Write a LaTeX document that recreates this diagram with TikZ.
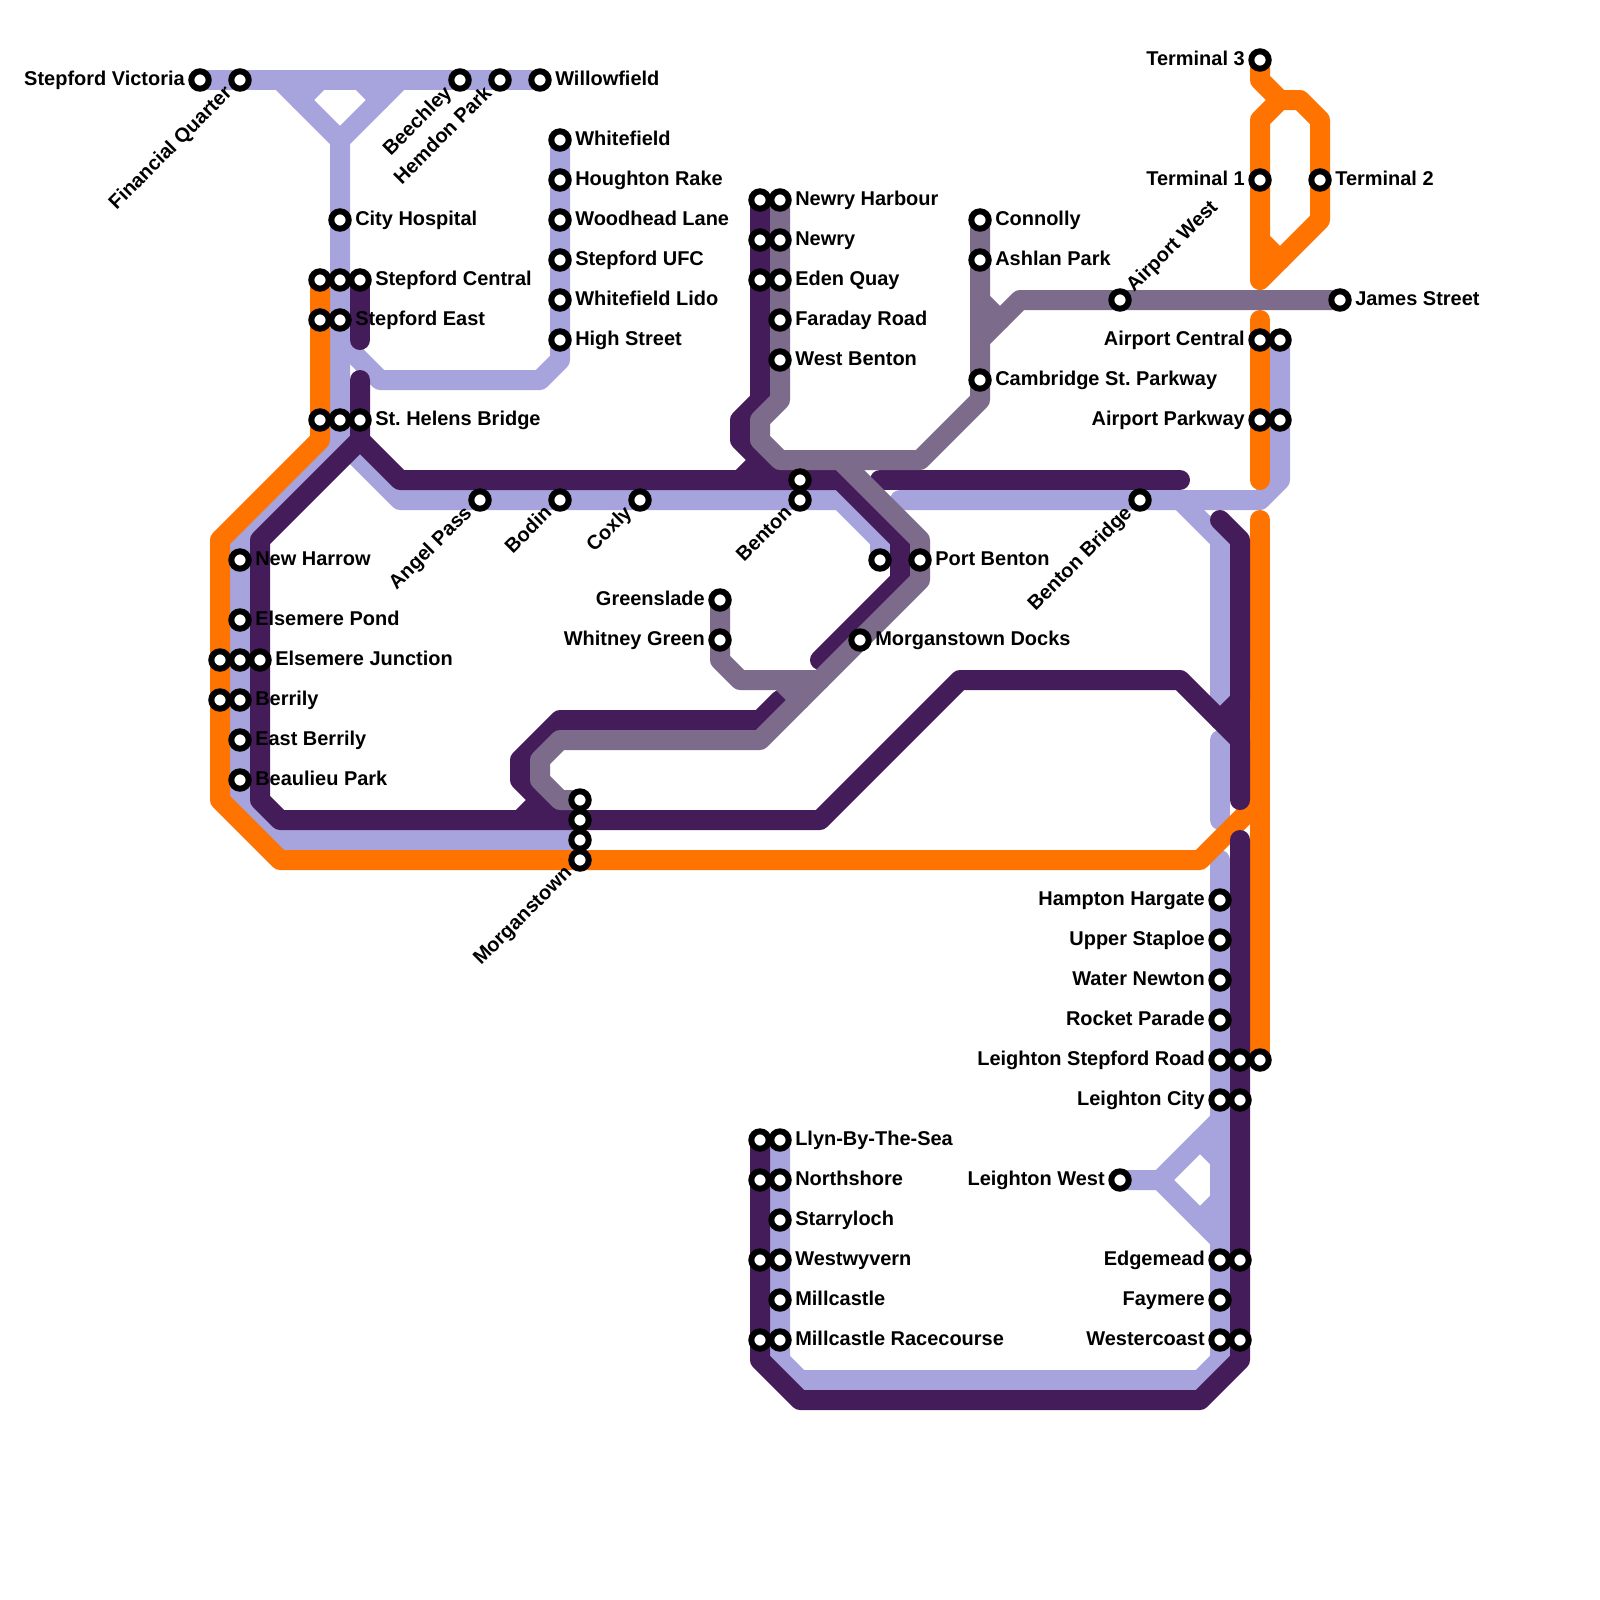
\documentclass[tikz,border=0pt]{standalone}
\usepackage{fontspec}
\setmainfont{Liberation Sans}
\usetikzlibrary{backgrounds}
\definecolor{lilac}{HTML}{A6A3DD}
\definecolor{amber}{HTML}{FF7300}
\definecolor{plum}{HTML}{451C5A}
\definecolor{slate}{HTML}{7D6B8C}
\frenchspacing

\begin{document}
\begin{tikzpicture}[
  x=0.5cm, y=-0.5cm,
  every node/.style={text=black, font=\fontsize{14.2pt}{17pt}\selectfont\bfseries},
  metro/.style={line width=5mm, line cap=round, line join=round},
  stn/.style={circle, draw=black, fill=white, line width=1.5mm, minimum size=4.35mm, inner sep=0pt, outer sep=0pt},
  lblr/.style={anchor=base west, xshift=3.75mm, yshift=-1.25mm, inner sep=0pt},
  lbll/.style={anchor=base east, xshift=-3.75mm, yshift=-1.25mm, inner sep=0pt},
  lbld/.style={anchor=base east, xshift=-1.75mm, yshift=-3.5mm, inner sep=0pt, rotate=45},
  lblu/.style={anchor=base west, xshift=3.5mm, yshift=1.75mm, inner sep=0pt, rotate=45},
]
\useasboundingbox (0,0) rectangle (80,80);

% Top line
\node[stn] (victoria) at (10,4) {};
\node[lbll] (victoria-t) at (victoria) {Stepford Victoria};
\node[stn] (financial) at (12,4) {};
\node[lbld] (financial-t) at (financial) {Financial Quarter};
\node[stn] (beechley) at (23,4) {};
\node[lbld] (beechley-t) at (beechley) {Beechley};
\node[stn] (hemdon) at (25,4) {};
\node[lbld] (hemdon-t) at (hemdon) {Hemdon Park};
\node[stn] (willowfield) at (27,4) {};
\node[lblr] (willowfield-t) at (willowfield) {Willowfield};

% Whitefield branch
\node[stn] (whitefield) at (28,7) {};
\node[lblr] (whitefield-t) at (whitefield) {Whitefield};
\node[stn] (houghton) at (28,9) {};
\node[lblr] (houghton-t) at (houghton) {Houghton Rake};
\node[stn] (woodhead) at (28,11) {};
\node[lblr] (woodhead-t) at (woodhead) {Woodhead Lane};
\node[stn] (ufc) at (28,13) {};
\node[lblr] (ufc-t) at (ufc) {Stepford UFC};
\node[stn] (lido) at (28,15) {};
\node[lblr] (lido-t) at (lido) {Whitefield Lido};
\node[stn] (highst) at (28,17) {};
\node[lblr] (highst-t) at (highst) {High Street};

% Stepford
\node[stn] (hospital) at (17,11) {};
\node[lblr] (hospital-t) at (hospital) {City Hospital};
\node[stn] (centrala) at (16,14) {};
\node[stn] (centralb) at (17,14) {};
\node[stn] (centralc) at (18,14) {};
\node[lblr] (central-t) at (centralc) {Stepford Central};
\node[stn] (easta) at (16,16) {};
\node[stn] (eastb) at (17,16) {};
\node[lblr] (east-t) at (eastb) {Stepford East};
\node[stn] (helensa) at (16,21) {};
\node[stn] (helensb) at (17,21) {};
\node[stn] (helensc) at (18,21) {};
\node[lblr] (helens-t) at (helensc) {St. Helens Bridge};

% West side
\node[stn] (harrow) at (12,28) {};
\node[lblr] (harrow-t) at (harrow) {New Harrow};
\node[stn] (pond) at (12,31) {};
\node[lblr] (pond-t) at (pond) {Elsemere Pond};
\node[stn] (junctiona) at (11,33) {};
\node[stn] (junctionb) at (12,33) {};
\node[stn] (junctionc) at (13,33) {};
\node[lblr] (junction-t) at (junctionc) {Elsemere Junction};
\node[stn] (berrilya) at (11,35) {};
\node[stn] (berrilyb) at (12,35) {};
\node[lblr] (berrily-t) at (berrilyb) {Berrily};
\node[stn] (eastberrily) at (12,37) {};
\node[lblr] (eastberrily-t) at (eastberrily) {East Berrily};
\node[stn] (beaulieu) at (12,39) {};
\node[lblr] (beaulieu-t) at (beaulieu) {Beaulieu Park};

% Morganstown
\node[stn] (mtowna) at (29,40) {};
\node[stn] (mtownb) at (29,41) {};
\node[stn] (mtownc) at (29,42) {};
\node[stn] (mtownd) at (29,43) {};
\node[lbld] (mtown-t) at (mtownd) {Morganstown};

% Middle
\node[stn] (angel) at (24,25) {};
\node[lbld] (angel-t) at (angel) {Angel Pass};
\node[stn] (bodin) at (28,25) {};
\node[lbld] (bodin-t) at (bodin) {Bodin};
\node[stn] (coxly) at (32,25) {};
\node[lbld] (coxly-t) at (coxly) {Coxly};
\node[stn] (bentona) at (40,24) {};
\node[stn] (bentonb) at (40,25) {};
\node[lbld] (benton-t) at (bentonb) {Benton};
\node[stn] (porta) at (44,28) {};
\node[stn] (portb) at (46,28) {};
\node[lblr] (port-t) at (portb) {Port Benton};
\node[stn] (docks) at (43,32) {};
\node[lblr] (docks-t) at (docks) {Morganstown Docks};
\node[stn] (greenslade) at (36,30) {};
\node[lbll] (greenslade-t) at (greenslade) {Greenslade};
\node[stn] (whitney) at (36,32) {};
\node[lbll] (whitney-t) at (whitney) {Whitney Green};

% Newry
\node[stn] (harboura) at (38,10) {};
\node[stn] (harbourb) at (39,10) {};
\node[lblr] (harbour-t) at (harbourb) {Newry Harbour};
\node[stn] (newrya) at (38,12) {};
\node[stn] (newryb) at (39,12) {};
\node[lblr] (newry-t) at (newryb) {Newry};
\node[stn] (edena) at (38,14) {};
\node[stn] (edenb) at (39,14) {};
\node[lblr] (eden-t) at (edenb) {Eden Quay};
\node[stn] (faraday) at (39,16) {};
\node[lblr] (faraday-t) at (faraday) {Faraday Road};
\node[stn] (westbenton) at (39,18) {};
\node[lblr] (westbenton-t) at (westbenton) {West Benton};

% Connolly and James Street
\node[stn] (connolly) at (49,11) {};
\node[lblr] (connolly-t) at (connolly) {Connolly};
\node[stn] (ashlan) at (49,13) {};
\node[lblr] (ashlan-t) at (ashlan) {Ashlan Park};
\node[stn] (cambridge) at (49,19) {};
\node[lblr] (cambridge-t) at (cambridge) {Cambridge St. Parkway};
\node[stn] (airportwest) at (56,15) {};
\node[lblu] (airportwest-t) at (airportwest) {Airport West};
\node[stn] (james) at (67,15) {};
\node[lblr] (james-t) at (james) {James Street};

% Airport
\node[stn] (terminalc) at (63,3) {};
\node[lbll] (terminalc-t) at (terminalc) {Terminal 3};
\node[stn] (terminala) at (63,9) {};
\node[lbll] (terminala-t) at (terminala) {Terminal 1};
\node[stn] (terminalb) at (66,9) {};
\node[lblr] (terminalb-t) at (terminalb) {Terminal 2};
\node[stn] (acentrala) at (63,17) {};
\node[stn] (acentralb) at (64,17) {};
\node[lbll] (acentral-t) at (acentrala) {Airport Central};
\node[stn] (parkwaya) at (63,21) {};
\node[stn] (parkwayb) at (64,21) {};
\node[lbll] (parkway-t) at (parkwaya) {Airport Parkway};
\node[stn] (bentonbridge) at (57,25) {};
\node[lbld] (bentonbridge-t) at (bentonbridge) {Benton Bridge};

% East side
\node[stn] (hampton) at (61,45) {};
\node[lbll] (hampton-t) at (hampton) {Hampton Hargate};
\node[stn] (staploe) at (61,47) {};
\node[lbll] (staploe-t) at (staploe) {Upper Staploe};
\node[stn] (newton) at (61,49) {};
\node[lbll] (newton-t) at (newton) {Water Newton};
\node[stn] (rocket) at (61,51) {};
\node[lbll] (rocket-t) at (rocket) {Rocket Parade};
\node[stn] (lroada) at (61,53) {};
\node[stn] (lroadb) at (62,53) {};
\node[stn] (lroadc) at (63,53) {};
\node[lbll] (lroad-t) at (lroada) {Leighton Stepford Road};
\node[stn] (lcitya) at (61,55) {};
\node[stn] (lcityb) at (62,55) {};
\node[lbll] (lcity-t) at (lcitya) {Leighton City};
\node[stn] (lwest) at (56,59) {};
\node[lbll] (lwest-t) at (lwest) {Leighton West};
\node[stn] (edgemeada) at (61,63) {};
\node[stn] (edgemeadb) at (62,63) {};
\node[lbll] (edgemead-t) at (edgemeada) {Edgemead};
\node[stn] (faymere) at (61,65) {};
\node[lbll] (faymere-t) at (faymere) {Faymere};
\node[stn] (westercoasta) at (61,67) {};
\node[stn] (westercoastb) at (62,67) {};
\node[lbll] (westercoast-t) at (westercoasta) {Westercoast};

% South side
\node[stn] (llyna) at (38,57) {};
\node[stn] (llynb) at (39,57) {};
\node[lblr] (llyn-t) at (llynb) {Llyn-By-The-Sea};
\node[stn] (northa) at (38,59) {};
\node[stn] (northb) at (39,59) {};
\node[lblr] (north-t) at (northb) {Northshore};
\node[stn] (starry) at (39,61) {};
\node[lblr] (starry-t) at (starry) {Starryloch};
\node[stn] (wyverna) at (38,63) {};
\node[stn] (wyvernb) at (39,63) {};
\node[lblr] (wyvern-t) at (wyvernb) {Westwyvern};
\node[stn] (mill) at (39,65) {};
\node[lblr] (mill-t) at (mill) {Millcastle};
\node[stn] (racea) at (38,67) {};
\node[stn] (raceb) at (39,67) {};
\node[lblr] (race-t) at (raceb) {Millcastle Racecourse};

\begin{scope}[on background layer]
% Lilac lines
\draw[metro, lilac] (victoria.center) -- (willowfield.center);
\draw[metro, lilac] (14,4) -- (17,7) -- (20,4);
\draw[metro, lilac] (16,4) -- (15,5);
\draw[metro, lilac] (18,4) -- (19,5);
\draw[metro, lilac] (17,7) -- (helensb.center) -- (17,22) -- (12,27) -- (12,40) -- (14,42) -- (mtownc.center);
\draw[metro, lilac] (17,17) -- (19,19) -- (27,19) -- (28,18) -- (whitefield.center);
\draw[metro, lilac] (17,22) -- (20,25) -- (42,25) -- (44,27) -- (porta.center);
\draw[metro, lilac] (45,25) -- (63,25) -- (64,24) -- (acentralb.center);
\draw[metro, lilac] (59,25) -- (61,27) -- (61,35);
\draw[metro, lilac] (61,37) -- (61,41);
\draw[metro, lilac] (61,43) -- (61,68) -- (60,69) -- (40,69) -- (39,68) -- (llynb.center);
\draw[metro, lilac] (lwest.center) -- (58,59) -- (61,56);
\draw[metro, lilac] (58,59) -- (61,62);
\draw[metro, lilac] (60,57) -- (61,58);
\draw[metro, lilac] (61,60) -- (60,61);

% Orange lines
\draw[metro, amber] (centrala.center) -- (16,22) -- (11,27) -- (11,40) -- (14,43) -- (60,43) -- (63,40);
\draw[metro, amber] (63,16) -- (63,24);
\draw[metro, amber] (63,26) -- (lroadc.center);
\draw[metro, amber] (terminalc.center) -- (63,4) -- (64,5) -- (65,5) -- (66,6) -- (66,11) -- (64,13) -- (63,12) -- (63,6) -- (64,5);
\draw[metro, amber] (64,13) -- (63,14) -- (63,12);

% Purple lines
\draw[metro, plum] (centralc.center) -- (18,17);
\draw[metro, plum] (18,19) -- (18,22) -- (20,24) -- (42,24) -- (45,27) -- (45,29) -- (41,33);
\draw[metro, plum] (18,22) -- (13,27) -- (13,40) -- (14,41) -- (41,41) -- (48,34) -- (59,34) -- (61,36) -- (62,35) -- (62,27) -- (61,26);
\draw[metro, plum] (61,36) -- (62,37) -- (62,40);
\draw[metro, plum] (62,35) -- (62,37);
\draw[metro, plum] (62,42) -- (62,68) -- (60,70) -- (40,70) -- (38,68) -- (llyna.center);
\draw[metro, plum] (26,41) -- (27,40) -- (26,39) -- (26,38) -- (28,36) -- (38,36) -- (39,35);
\draw[metro, plum] (27,40) -- (28,41);
\draw[metro, plum] (harboura.center) -- (38,20) -- (37,21) -- (37,22) -- (38,23) -- (37,24);
\draw[metro, plum] (38,23) -- (39,24);
\draw[metro, plum] (44,24) -- (59,24);

% Grey lines
\draw[metro, slate] (connolly.center) -- (49,15) -- (50,16) -- (51,15) -- (james.center);
\draw[metro, slate] (49,15) -- (49,17);
\draw[metro, slate] (50,16) -- (49,17) -- (49,20) -- (46,23) -- (39,23) -- (38,22) -- (38,21) -- (39,20) -- (harbourb.center);
\draw[metro, slate] (42,23) -- (46,27) -- (46,29) -- (38,37) -- (28,37) -- (27,38) -- (27,39) -- (28,40) -- (mtowna.center);
\draw[metro, slate] (greenslade.center) -- (36,33) -- (37,34) -- (41,34);
\draw[metro, slate] (39,34) -- (40,35);
\end{scope}

\end{tikzpicture}
\end{document}
